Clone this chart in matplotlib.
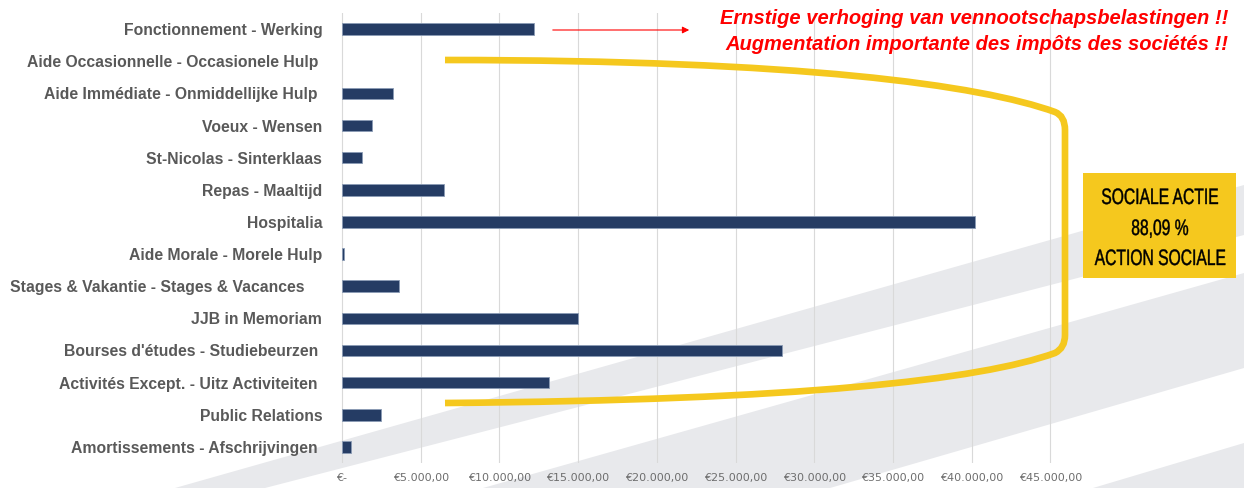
import numpy as np
import matplotlib
matplotlib.use('Agg')
import matplotlib.pyplot as plt
from matplotlib.path import Path
from matplotlib.patches import PathPatch, Polygon, Rectangle
from matplotlib.textpath import TextPath
from matplotlib.font_manager import FontProperties
from matplotlib.transforms import Affine2D

categories = [
    "Fonctionnement - Werking",
    "Aide Occasionnelle - Occasionele Hulp ",
    "Aide Immédiate - Onmiddellijke Hulp ",
    "Voeux - Wensen",
    "St-Nicolas - Sinterklaas",
    "Repas - Maaltijd",
    "Hospitalia",
    "Aide Morale - Morele Hulp",
    "Stages & Vakantie - Stages & Vacances    ",
    "JJB in Memoriam",
    "Bourses d'études - Studiebeurzen ",
    "Activités Except. - Uitz Activiteiten ",
    "Public Relations",
    "Amortissements - Afschrijvingen ",
]
values = [12200, 0, 3250, 1930, 1280, 6500, 40200, 100, 3620, 15000, 27950, 13150, 2480, 570]
x_ticks = [0, 5000, 10000, 15000, 20000, 25000, 30000, 35000, 40000, 45000]
x_tick_labels = ["€-", "€5.000,00", "€10.000,00", "€15.000,00", "€20.000,00", "€25.000,00",
                 "€30.000,00", "€35.000,00", "€40.000,00", "€45.000,00"]
note_lines = ["Ernstige verhoging van vennootschapsbelastingen !!",
              "Augmentation importante des impôts des sociétés !!"]
box_lines = ["SOCIALE ACTIE", "88,09 %", "ACTION SOCIALE"]

main_family = ['Liberation Sans', 'DejaVu Sans']

W, H = 1244, 488
fig = plt.figure(figsize=(W / 100, H / 100), dpi=100)

# background diagonal stripes
bg = fig.add_axes([0, 0, 1, 1], zorder=0)
bg.set_xlim(0, W); bg.set_ylim(H, 0); bg.axis('off')
stripes = [
    [(175, 488), (265, 488), (1244, 235), (1244, 185)],
    [(483, 488), (830, 488), (1244, 368), (1244, 273)],
    [(1093, 488), (1244, 488), (1244, 443)],
]
for poly in stripes:
    bg.add_patch(Polygon(poly, closed=True, fc='#E8E9EC', ec='none'))

# main chart
px_per_unit = 78.7 / 5000
x0_px, x1_px = 342 - 100 * px_per_unit, 342 + 45100 * px_per_unit
ax = fig.add_axes([x0_px / W, 1 - 463 / H, (x1_px - x0_px) / W, (463 - 13) / H], zorder=1)
ax.patch.set_alpha(0)
y = np.arange(len(categories))
edge_colors = ['#8A9BB5' if v > 0 else 'none' for v in values]
ax.barh(y, values, height=0.36, color='#253C64', edgecolor=edge_colors, linewidth=0.6, zorder=3)
ax.set_xlim(-100, 45100)
ax.set_ylim(len(categories) - 0.5, -0.5)
ax.set_xticks(x_ticks)
ax.set_xticklabels(x_tick_labels, family=['DejaVu Sans'], fontsize=8, color='#6E6E6E')
ax.set_yticks(y)
ax.set_yticklabels(categories, family=main_family, fontweight='bold', fontsize=11.3, color='#595959')
ax.grid(axis='x', color='#D9D9D9', lw=0.8)
ax.set_axisbelow(True)
for s in ax.spines.values():
    s.set_visible(False)
ax.tick_params(axis='x', length=0, pad=7)
ax.tick_params(axis='y', length=0, pad=13)

# foreground annotations
fg = fig.add_axes([0, 0, 1, 1], zorder=2)
fg.patch.set_alpha(0)
fg.set_xlim(0, W); fg.set_ylim(H, 0); fg.axis('off')

yellow = '#F5C81E'
verts = [(445, 60), (800, 60), (980, 85), (1055, 112), (1065, 116), (1065, 130),
         (1065, 335), (1065, 348), (1055, 353), (980, 380), (800, 400), (445, 403)]
codes = [Path.MOVETO, Path.CURVE4, Path.CURVE4, Path.CURVE4, Path.CURVE3, Path.CURVE3,
         Path.LINETO, Path.CURVE3, Path.CURVE3, Path.CURVE4, Path.CURVE4, Path.CURVE4]
fg.add_patch(PathPatch(Path(verts, codes), fc='none', ec=yellow, lw=4.8, capstyle='butt'))

fg.add_patch(Rectangle((1083, 173), 153, 105, fc=yellow, ec='none'))
# condensed box text: glyph outlines squeezed horizontally
prop = FontProperties(family=main_family)
cap_px = 16.0
sx_factor = 0.70
for ty, line in zip([196, 227, 257], box_lines):
    tp = TextPath((0, 0), line, size=cap_px / 0.716, prop=prop)
    ext = tp.get_extents()
    tr = Affine2D().translate(-(ext.x0 + ext.x1) / 2, 0).scale(sx_factor, -1).translate(1160, ty + cap_px / 2)
    fg.add_patch(PathPatch(tr.transform_path(tp), fc='black', ec='black', lw=0.3))

for ty, line in zip([18, 45], note_lines):
    fg.text(1228, ty, line, ha='right', va='center', family=main_family,
            fontweight='bold', fontstyle='italic', fontsize=14.5, color='#FF0000')

fg.annotate('', xy=(692, 30), xytext=(550, 30),
            arrowprops=dict(arrowstyle='-|>', color='#FF0000', lw=0.8, mutation_scale=10))

fig.savefig('out.png', dpi=100)
